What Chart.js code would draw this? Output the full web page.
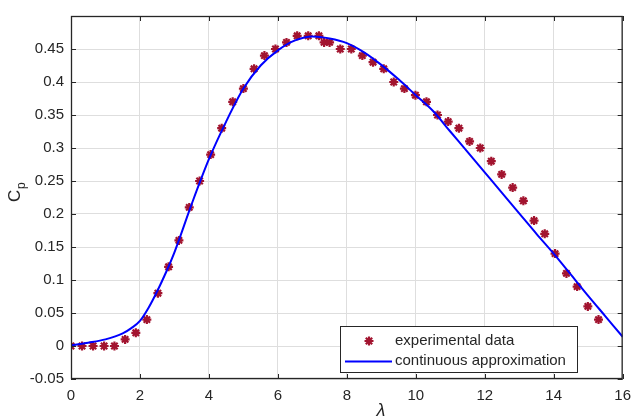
<!DOCTYPE html>
<html>
<head>
<meta charset="utf-8">
<script src="https://cdn.jsdelivr.net/npm/chart.js@4.4.1/dist/chart.umd.min.js"></script>
<style>
  html, body { margin: 0; padding: 0; background: #fff; }
  #wrap { width: 639px; height: 416px; position: relative; }
</style>
</head>
<body>
<div id="wrap"><canvas id="cp-chart"></canvas></div>
<script>
(function () {
  "use strict";

  // experimental data (tip speed ratio, power coefficient)
  const expLambda = [0, 0.32, 0.64, 0.96, 1.26, 1.57, 1.88, 2.2, 2.52, 2.83, 3.13, 3.43, 3.73, 4.05, 4.37, 4.69,
    5.0, 5.31, 5.61, 5.93, 6.25, 6.56, 6.88, 7.19, 7.34, 7.5, 7.81, 8.13, 8.45, 8.76, 9.07, 9.36, 9.67, 9.99,
    10.31, 10.63, 10.94, 11.25, 11.56, 11.87, 12.19, 12.49, 12.81, 13.12, 13.43, 13.74, 14.04, 14.37, 14.68, 14.99, 15.3];
  const expCp = [0, 0, 0, 0, 0, 0.01, 0.02, 0.04, 0.08, 0.12, 0.16, 0.21, 0.25, 0.29, 0.33, 0.37,
    0.39, 0.42, 0.44, 0.45, 0.46, 0.47, 0.47, 0.47, 0.46, 0.46, 0.45, 0.45, 0.44, 0.43, 0.42, 0.40, 0.39, 0.38,
    0.37, 0.35, 0.34, 0.33, 0.31, 0.30, 0.28, 0.26, 0.24, 0.22, 0.19, 0.17, 0.14, 0.11, 0.09, 0.06, 0.04];

  // continuous approximation
  const fitLambda = [0, 0.5, 1, 1.5, 1.75, 2, 2.25, 2.5, 2.75, 3, 3.5, 4, 4.5, 5, 5.5, 6, 6.5, 7, 7.5, 8,
    8.5, 9, 9.5, 10, 10.5, 11, 11.5, 12, 12.5, 13, 13.5, 14, 14.5, 15, 15.5, 16];
  const fitCp = [0.001, 0.005, 0.01, 0.019, 0.027, 0.038, 0.058, 0.083, 0.111, 0.142, 0.215, 0.283, 0.34, 0.39,
    0.425, 0.448, 0.463, 0.469, 0.466, 0.459, 0.445, 0.426, 0.404, 0.38, 0.356, 0.325, 0.294, 0.263, 0.232,
    0.201, 0.17, 0.14, 0.108, 0.076, 0.045, 0.014];

  const xTicks = [0, 2, 4, 6, 8, 10, 12, 14, 16];
  const yTicks = [-0.05, 0, 0.05, 0.1, 0.15, 0.2, 0.25, 0.3, 0.35, 0.4, 0.45, 0.5];

  const markerColor = "#a2142f";
  const lineColor = "#0000ff";
  const axisColor = "#262626";
  const font = "Liberation Sans, Arial, sans-serif";
  const starStyle = { pointStyle: "star", radius: 4.5, rotation: 0, borderWidth: 2.2 };

  const pairs = (xs, ys) => xs.map((x, i) => ({ x, y: ys[i] }));

  const matlabAxes = {
    id: "matlabAxes",
    afterDraw(chart) {
      const { ctx, chartArea: a, scales } = chart;
      const xs = scales.x, ys = scales.y;
      const tl = 5;
      ctx.save();
      ctx.strokeStyle = axisColor;
      ctx.lineWidth = 1;
      ctx.beginPath();
      xTicks.forEach((v) => {
        const px = Math.round(xs.getPixelForValue(v)) + 0.5;
        ctx.moveTo(px, a.bottom); ctx.lineTo(px, a.bottom - tl);
        ctx.moveTo(px, a.top); ctx.lineTo(px, a.top + tl);
      });
      yTicks.forEach((v) => {
        const py = Math.round(ys.getPixelForValue(v)) + 0.5;
        ctx.moveTo(a.left, py); ctx.lineTo(a.left + tl, py);
        ctx.moveTo(a.right, py); ctx.lineTo(a.right - tl, py);
      });
      ctx.stroke();
      ctx.lineWidth = 1.3;
      ctx.strokeRect(a.left + 0.5, a.top + 0.5, a.right - a.left - 1, a.bottom - a.top - 1);

      // legend box, bottom right inside the axes
      const lx = 340, ly = 326, lw = 237, lh = 46;
      ctx.fillStyle = "#fff";
      ctx.fillRect(lx, ly, lw, lh);
      ctx.lineWidth = 1;
      ctx.strokeStyle = axisColor;
      ctx.strokeRect(lx + 0.5, ly + 0.5, lw, lh);
      const ds = chart.data.datasets;
      ctx.strokeStyle = markerColor;
      ctx.fillStyle = markerColor;
      ctx.lineWidth = starStyle.borderWidth;
      Chart.helpers.drawPoint(ctx, starStyle, 369, 341);
      ctx.strokeStyle = lineColor;
      ctx.lineWidth = 2;
      ctx.beginPath();
      ctx.moveTo(345, 361.5); ctx.lineTo(392, 361.5);
      ctx.stroke();
      ctx.fillStyle = axisColor;
      ctx.font = "15px " + font;
      ctx.textBaseline = "middle";
      ctx.textAlign = "left";
      ctx.fillText(ds[0].label, 395, 341);
      ctx.fillText(ds[1].label, 395, 361);

      // axis titles
      ctx.font = "italic 18px " + font;
      ctx.textAlign = "center";
      ctx.textBaseline = "top";
      ctx.fillText("\u03bb", 381, 402);

      ctx.translate(20, 196);
      ctx.rotate(-Math.PI / 2);
      ctx.textAlign = "left";
      ctx.textBaseline = "alphabetic";
      ctx.font = "17px " + font;
      ctx.fillText("C", -6, 0);
      ctx.font = "12px " + font;
      ctx.fillText("p", 7, 5);
      ctx.restore();
    },
  };

  new Chart(document.getElementById("cp-chart"), {
    type: "scatter",
    data: {
      datasets: [
        {
          label: "experimental data",
          data: pairs(expLambda, expCp),
          pointStyle: "star",
          radius: starStyle.radius,
          borderWidth: starStyle.borderWidth,
          borderColor: markerColor,
          backgroundColor: markerColor,
          order: 2,
        },
        {
          label: "continuous approximation",
          type: "line",
          data: pairs(fitLambda, fitCp),
          borderColor: lineColor,
          borderWidth: 2,
          pointRadius: 0,
          cubicInterpolationMode: "monotone",
          fill: false,
          order: 1,
        },
      ],
    },
    options: {
      responsive: true,
      maintainAspectRatio: false,
      animation: false,
      layout: { padding: { top: 12, right: 10, left: 0, bottom: 0 } },
      plugins: { legend: { display: false }, tooltip: { enabled: false } },
      scales: {
        x: {
          type: "linear",
          min: 0,
          max: 16,
          afterBuildTicks(scale) { scale.ticks = xTicks.map((v) => ({ value: v })); },
          afterFit(scale) { scale.height = 37; },
          grid: { color: "#dedede", drawTicks: false },
          border: { display: false },
          ticks: { color: axisColor, font: { family: font, size: 15 }, padding: 8, maxRotation: 0 },
        },
        y: {
          type: "linear",
          min: -0.05,
          max: 0.5,
          afterBuildTicks(scale) { scale.ticks = yTicks.map((v) => ({ value: v })); },
          afterFit(scale) { scale.width = 71; },
          grid: { color: "#dedede", drawTicks: false },
          border: { display: false },
          ticks: {
            color: axisColor,
            font: { family: font, size: 15 },
            padding: 7,
            callback(value) {
              if (Math.abs(value - 0.5) < 1e-9) return "";
              return String(Number(value.toFixed(2)));
            },
          },
        },
      },
    },
    plugins: [matlabAxes],
  });
})();
</script>
</body>
</html>
